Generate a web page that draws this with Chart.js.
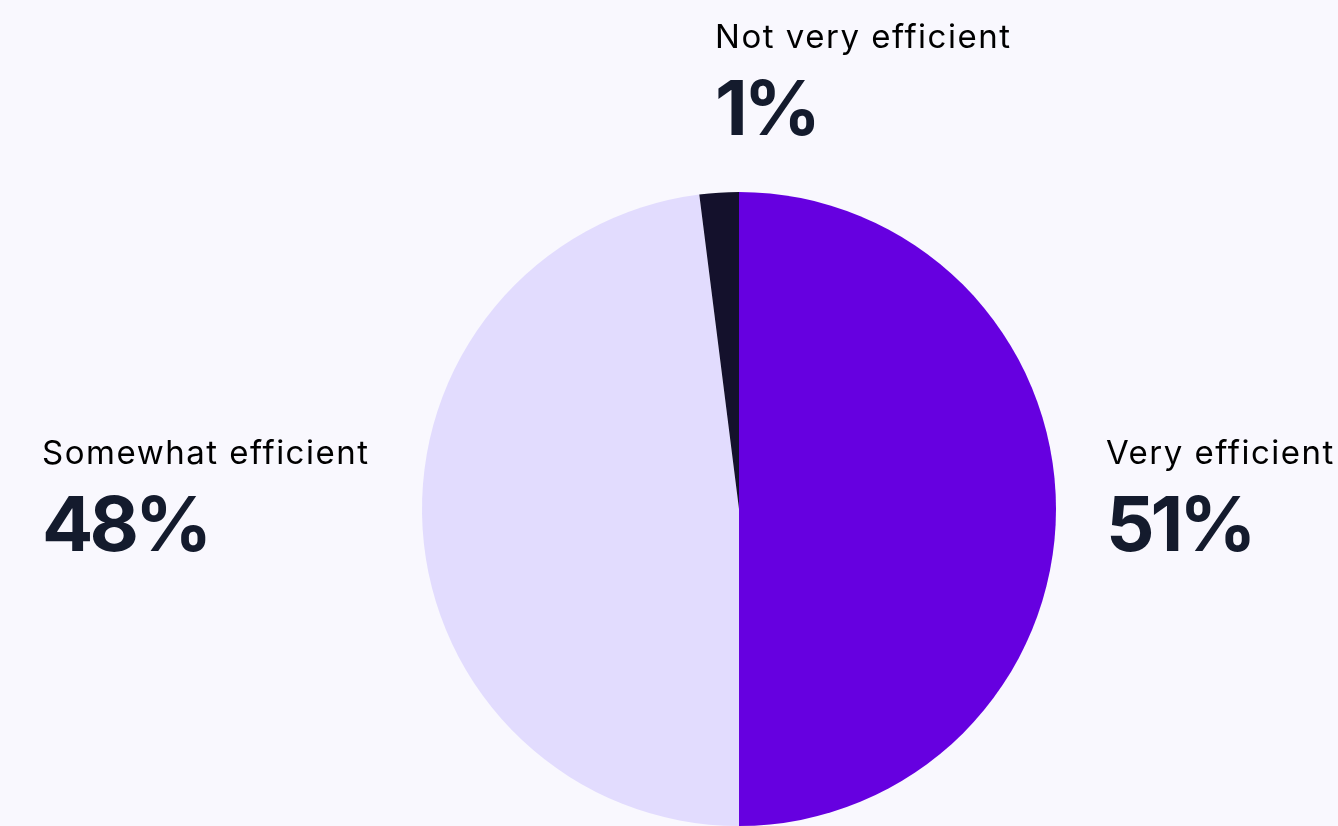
<!DOCTYPE html>
<html>
<head>
<meta charset="utf-8">
<script src="https://cdn.jsdelivr.net/npm/chart.js@4"></script>
<style>
  html, body { margin: 0; padding: 0; background: #f9f8fe; }
  #wrap { width: 1338px; height: 826px; position: relative; }
</style>
</head>
<body>
<div id="wrap"><canvas id="pie-chart"></canvas></div>
<script>
// slice sizes as drawn, and the percentages printed beside them
const categories = ['Very efficient', 'Somewhat efficient', 'Not very efficient'];
const sliceValues = [50, 48, 2];
const percentLabels = ['51%', '48%', '1%'];
const sliceColors = ['#6600e0', '#e2dcfe', '#14112c'];

const labelFont = '400 33px Inter, "Noto Sans", sans-serif';
const percentFont = '700 76px Inter, "Noto Sans", sans-serif';

function setLabelFont(ctx) {
  ctx.font = labelFont;
  ctx.letterSpacing = '1.5px';
}
function setPercentFont(ctx) {
  ctx.font = percentFont;
  ctx.letterSpacing = '-4px';
}

// draws the category name and its percentage next to each slice
const sideLabels = {
  id: 'sideLabels',
  afterDatasetsDraw(chart) {
    const ctx = chart.ctx;
    const arcs = chart.getDatasetMeta(0).data;
    ctx.save();
    ctx.textBaseline = 'alphabetic';
    ctx.textAlign = 'left';
    arcs.forEach((arc, i) => {
      const p = arc.getProps(['x', 'y', 'startAngle', 'endAngle', 'outerRadius'], true);
      const mid = (p.startAngle + p.endAngle) / 2;
      const cos = Math.cos(mid);
      setLabelFont(ctx);
      const w1 = ctx.measureText(categories[i]).width - 1.5;
      setPercentFont(ctx);
      const w2 = ctx.measureText(percentLabels[i]).width;
      const w = Math.max(w1, w2);
      let x, base;
      if (Math.abs(cos) > 0.5) {
        x = cos > 0 ? p.x + p.outerRadius + 50 : p.x - p.outerRadius - 54 - w;
        base = p.y - 45;
      } else {
        x = p.x + p.outerRadius * cos - 4;
        base = p.y - p.outerRadius - 144;
      }
      ctx.fillStyle = '#000000';
      setLabelFont(ctx);
      ctx.fillText(categories[i], x, base);
      ctx.fillStyle = '#141b2d';
      setPercentFont(ctx);
      ctx.fillText(percentLabels[i], x, base + 87);
    });
    ctx.restore();
  }
};

new Chart(document.getElementById('pie-chart'), {
  type: 'pie',
  data: {
    labels: categories,
    datasets: [{
      data: sliceValues,
      backgroundColor: sliceColors,
      borderWidth: 0
    }]
  },
  options: {
    responsive: true,
    maintainAspectRatio: false,
    animation: false,
    events: [],
    layout: { padding: { top: 192, bottom: 0, left: 140, right: 0 } },
    plugins: {
      legend: { display: false },
      tooltip: { enabled: false }
    }
  },
  plugins: [sideLabels]
});
</script>
</body>
</html>
